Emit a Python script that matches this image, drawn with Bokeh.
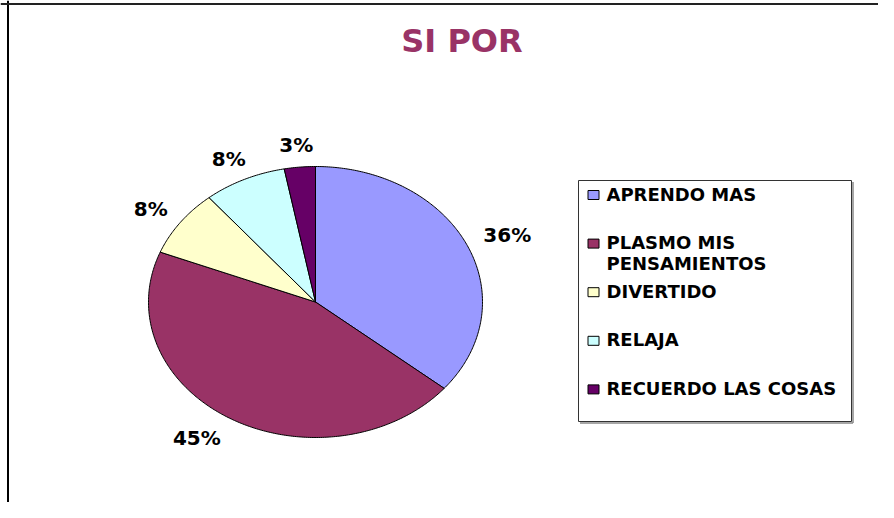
import numpy as np
from bokeh.plotting import figure
from bokeh.models import Range1d, Span
from bokeh.core.properties import value
from bokeh.embed import file_html
from bokeh.resources import INLINE

# ---- data ----
title_text = "SI POR"
categories = ["APRENDO MAS", "PLASMO MIS\nPENSAMIENTOS", "DIVERTIDO", "RELAJA", "RECUERDO LAS COSAS"]
values = [36, 45, 8, 8, 3]
colors = ["#9999FF", "#993366", "#FFFFCC", "#CCFFFF", "#660066"]

FONT = value("DejaVu Sans")

W, H = 878, 502
p = figure(width=W, height=H, output_backend="svg", toolbar_location=None,
           x_range=Range1d(0, W), y_range=Range1d(H, 0), min_border=0)
p.axis.visible = False
p.grid.visible = False
p.outline_line_color = None
p.background_fill_color = "white"
p.border_fill_color = "white"

# chart area border (left & top visible)
p.add_layout(Span(location=7.5, dimension="height", line_color="black", line_width=2))
p.add_layout(Span(location=3.5, dimension="width", line_color="#222222", line_width=2))

# ---- pie (elliptical) ----
cx, cy, rx, ry = 315, 301.5, 167, 135.5
total = float(sum(values))
frac = np.array(values) / total
ends = np.cumsum(frac) * 2 * np.pi
starts = ends - frac * 2 * np.pi
xs, ys = [], []
for a0, a1 in zip(starts, ends):
    t = np.linspace(a0, a1, max(int((a1 - a0) * 90), 8))
    xs.append([cx] + list(cx + rx * np.sin(t)))
    ys.append([cy] + list(cy - ry * np.cos(t)))
p.patches(xs, ys, fill_color=colors, line_color="black", line_width=1, line_join="round")

# percentage labels
labels = [f"{v / total * 100:.0f}%" for v in values]
mid = (starts + ends) / 2
lx, ly = [], []
for lab, m in zip(labels, mid):
    hw = len(lab) * 8.3
    lx.append(cx + (rx + 20 + hw) * np.sin(m) * (1.1 if np.cos(m) < 0 and np.sin(m) < 0 else 1.0))
    ly.append(cy - (ry + 22) * np.cos(m))
p.text(lx, ly, text=labels, text_align="center", text_baseline="middle",
       text_font=FONT, text_font_style="bold", text_font_size="20px", text_color="black")

# title
p.text([461.5], [40], text=[title_text], text_align="center", text_baseline="middle",
       text_font=FONT, text_font_style="bold", text_font_size="32px", text_color="#993366")

# ---- legend ----
p.quad(left=[578], right=[851], top=[180], bottom=[421], fill_color="white",
       line_color="#333333", line_width=1)
p.segment(x0=[852.5, 579.5], y0=[181.5, 422.5], x1=[852.5, 852.5], y1=[422.5, 422.5],
          line_color="#888888", line_width=1.5)
y0, step = 194.5, 48.6
leg_y = [y0 + i * step for i in range(len(categories))]
p.rect(x=[593] * len(categories), y=leg_y, width=11, height=9,
       fill_color=colors, line_color="black", line_width=1)
tx, ty, tt = [], [], []
for i, cat in enumerate(categories):
    for j, line in enumerate(cat.split("\n")):
        tx.append(606)
        ty.append(leg_y[i] - 1 + j * 20.5)
        tt.append(line)
p.text(tx, ty, text=tt, text_align="left", text_baseline="middle",
       text_font=FONT, text_font_style="bold", text_font_size="18px", text_color="black")

open("out.html", "w").write(file_html(p, INLINE))
